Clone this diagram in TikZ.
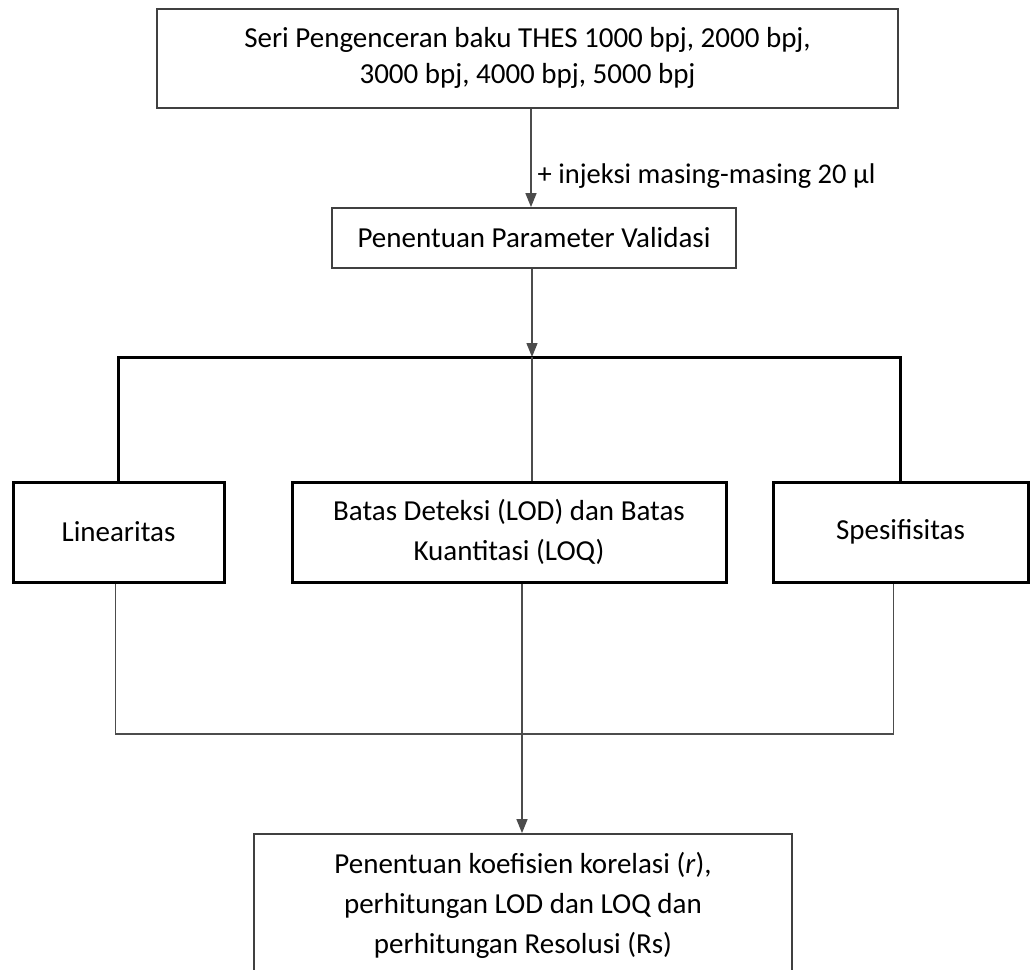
\documentclass[tikz,border=0pt]{standalone}
\usepackage{fontspec}
\setmainfont{Carlito}
\usetikzlibrary{arrows.meta}
\begin{document}
\begin{tikzpicture}[x=1pt,y=-1pt,
	box/.style={draw=black!75,line width=1.8pt,align=center,inner sep=0pt,font=\fontsize{29}{36}\selectfont},
	thickbox/.style={box,draw=black,line width=3pt,minimum height=100pt,font=\fontsize{29}{40}\selectfont},
	link/.style={draw=black!70,line width=1.4pt},
	thicklink/.style={draw=black,line width=3pt},
	arr/.style={link,-{Triangle[length=14pt,width=11pt]}}]
	\useasboundingbox (0,0) rectangle (1030,969);
	\clip (0,0) rectangle (1030,969);
	\node[box,minimum width=741pt,minimum height=99pt,text depth=6pt] (seri) at (527.5,58.5) {Seri Pengenceran baku THES 1000 bpj, 2000 bpj,\\3000 bpj, 4000 bpj, 5000 bpj};
	\node[box,minimum width=404pt,minimum height=60pt] (param) at (534,238) {Penentuan Parameter Validasi};
	\node[thickbox,minimum width=211pt] (lin) at (118.5,532) {Linearitas};
	\node[thickbox,minimum width=434pt] (lod) at (509,532) {Batas Deteksi (LOD) dan Batas\\Kuantitasi (LOQ)};
	\node[thickbox,minimum width=255pt] (spes) at (900.5,532) {Spesifisitas};
	\node[box,minimum width=538pt,minimum height=142pt,font=\fontsize{29}{40}\selectfont] (hasil) at (523,905) {Penentuan koefisien korelasi (\textit{r}),\\perhitungan LOD dan LOQ dan\\perhitungan Resolusi (Rs)};
	\coordinate (bar) at (532,357);
	\coordinate (join) at (522,734);
	\draw[arr] ([xshift=-3pt]seri.south -| param.north) -- node[pos=0.68,right=6pt,font=\fontsize{28.5}{30}\selectfont,inner sep=0pt] (inj) {+ injeksi masing-masing 20 µl} ([xshift=-3pt]param.north);
	\draw[arr] (param.south -| bar) -- (bar);
	\draw[thicklink] (lin.north) |- (bar) -| (spes.north);
	\draw[link] (bar) -- (bar |- lod.north);
	\draw[link] ([xshift=-3pt]lin.south) |- (join) -| ([xshift=-7pt]spes.south);
	\draw[link] (lod.south -| join) -- (join);
	\draw[arr] (join) -- (hasil.north -| join);
\end{tikzpicture}
\end{document}
